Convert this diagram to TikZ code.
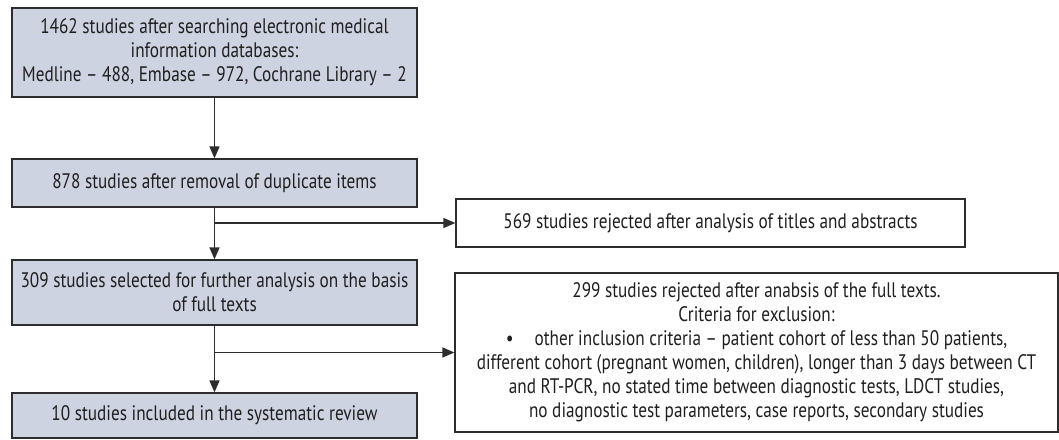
\documentclass[tikz,border=0pt]{standalone}
\usepackage{fontspec}
\setmainfont[FakeStretch=0.82]{PT Sans}
\usetikzlibrary{arrows.meta}
\definecolor{boxfill}{RGB}{205,211,224}
\definecolor{boxline}{RGB}{45,45,45}
\definecolor{conn}{RGB}{45,45,45}
\begin{document}
\begin{tikzpicture}[x=1pt,y=-1pt,
  every node/.style={font=\fontsize{21}{24}\selectfont, text=black!88, inner sep=0pt, align=center},
  mainbox/.style={draw=boxline, line width=1.3pt, fill=boxfill, minimum width=405pt},
  sidebox/.style={draw=boxline, line width=1.3pt, fill=white},
  arr/.style={draw=conn, line width=1.5pt, -{Triangle[length=12pt,width=10pt]}}]
\useasboundingbox (0,0) rectangle (1059,439);
\node[mainbox, minimum height=89pt] (b1) at (214.5,52.5)
  {1462 studies after searching electronic medical\\information databases:\\Medline -- 488, Embase -- 972, Cochrane Library -- 2};
\node[mainbox, minimum height=48pt] (b2) at (214.5,183)
  {878 studies after removal of duplicate items};
\node[mainbox, minimum height=65pt] (b3) at (214.5,292.5)
  {309 studies selected for further analysis on the basis\\of full texts};
\node[mainbox, minimum height=45pt] (b4) at (214.5,415.5)
  {10 studies included in the systematic review};
\node[sidebox, minimum width=509pt, minimum height=48pt] (r1) at (710.5,223)
  {569 studies rejected after analysis of titles and abstracts};
\node[sidebox, minimum width=603pt, minimum height=159pt] (r2) at (756.5,352.5)
  {299 studies rejected after anabsis of the full texts.\\Criteria for exclusion:\\
   \textbullet\quad other inclusion criteria -- patient cohort of less than 50 patients,\\
   different cohort (pregnant women, children), longer than 3 days between CT\\
   and RT-PCR, no stated time between diagnostic tests, LDCT studies,\\
   no diagnostic test parameters, case reports, secondary studies};
\coordinate (j1) at (214,223);
\coordinate (j2) at (214,352.5);
\draw[arr] (b1.south) -- (b2.north);
\draw[arr] (b2.south) -- (b3.north);
\draw[arr] (b3.south) -- (b4.north);
\draw[arr] (j1) -- (r1.west);
\draw[arr] (j2) -- (r2.west);
\end{tikzpicture}
\end{document}
